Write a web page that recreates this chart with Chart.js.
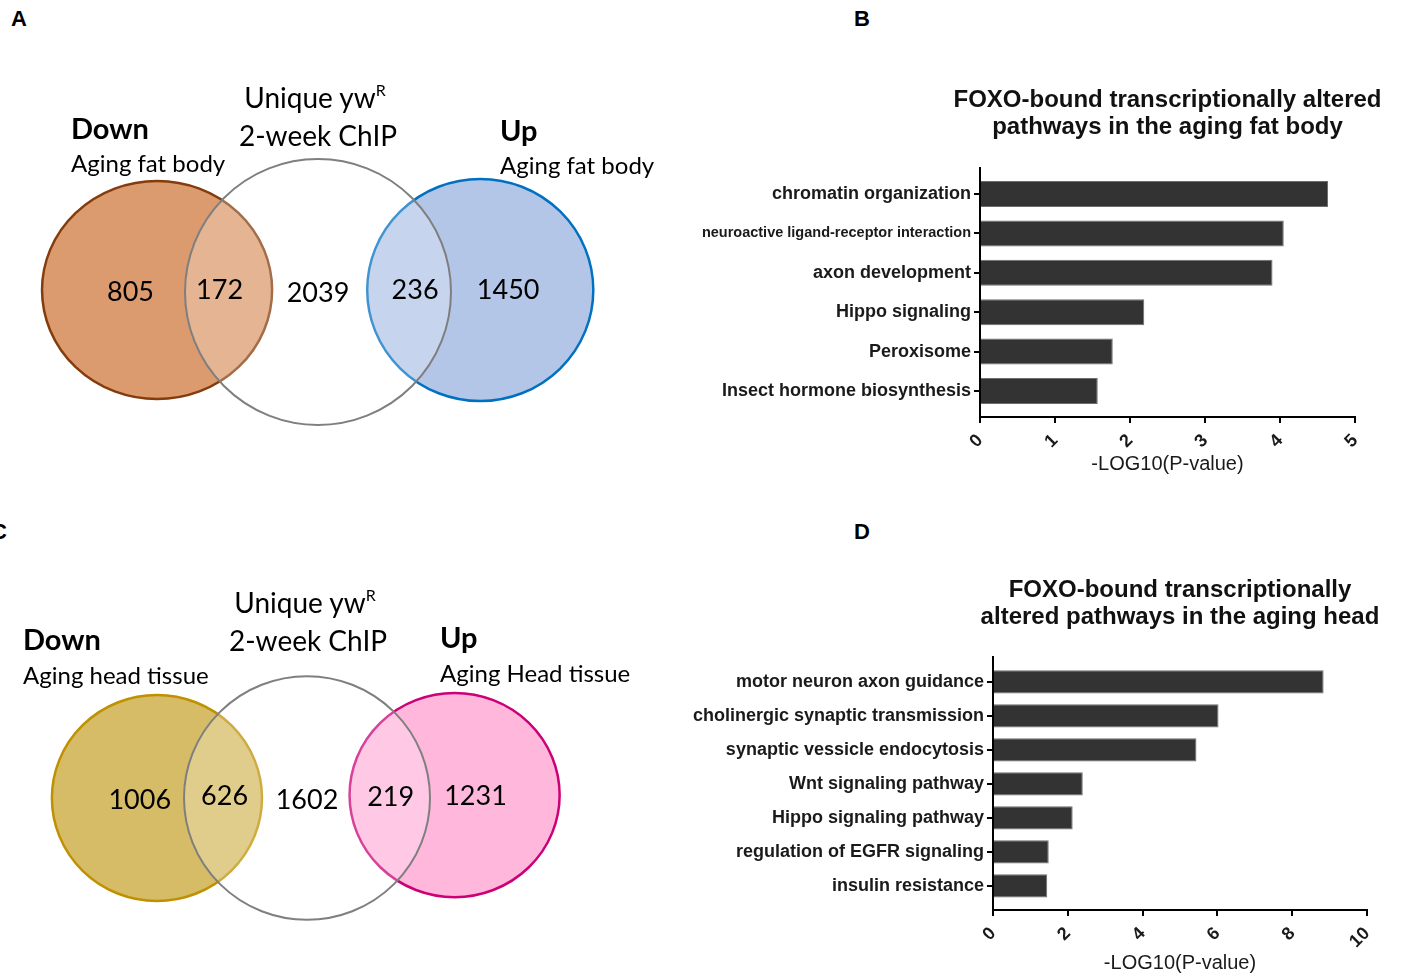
<!DOCTYPE html>
<html>
<head>
<meta charset="utf-8">
<script src="https://cdn.jsdelivr.net/npm/chart.js@4.4.1/dist/chart.umd.min.js"></script>
<style>
  body { margin: 0; background: #fff; width: 1402px; height: 979px; position: relative; overflow: hidden; font-family: Lato, sans-serif; color: #000; }
  canvas { position: absolute; }
  .lbl { position: absolute; white-space: nowrap; line-height: 1.2; transform: translateY(-50%); }
  .mid { transform: translate(-50%, -50%); }
  .head { font-size: 29px; font-weight: bold; }
  .sub { font-size: 24px; }
  .chip { font-size: 28px; }
  .chip sup { font-size: 16px; vertical-align: 12px; line-height: 0; }
  .letter { position: absolute; font: bold 22px "Liberation Sans", Arial, sans-serif; line-height: 1; }
</style>
</head>
<body>

<div class="letter" style="left:11px; top:8px">A</div>
<div class="letter" style="left:854px; top:8px">B</div>
<div class="letter" style="left:-9px; top:521px">C</div>
<div class="letter" style="left:854px; top:521px">D</div>

<canvas id="vennA" width="700" height="390" style="left:0; top:60px"></canvas>
<canvas id="barB" width="955" height="400" style="left:690px; top:80px"></canvas>
<canvas id="vennC" width="700" height="400" style="left:0; top:560px"></canvas>
<canvas id="barD" width="1000" height="409" style="left:680px; top:570px"></canvas>

<!-- venn headings -->
<div class="lbl head" style="left:71px; top:128px">Down</div>
<div class="lbl sub" style="left:71px; top:163px">Aging fat body</div>
<div class="lbl chip mid" style="left:315px; top:98px">Unique yw<sup>R</sup></div>
<div class="lbl chip mid" style="left:318px; top:136px">2-week ChIP</div>
<div class="lbl head" style="left:500px; top:130px">Up</div>
<div class="lbl sub" style="left:500px; top:165px">Aging fat body</div>

<div class="lbl head" style="left:23px; top:639px">Down</div>
<div class="lbl sub" style="left:23px; top:675px">Aging head tissue</div>
<div class="lbl chip mid" style="left:305px; top:603px">Unique yw<sup>R</sup></div>
<div class="lbl chip mid" style="left:308px; top:641px">2-week ChIP</div>
<div class="lbl head" style="left:440px; top:637px">Up</div>
<div class="lbl sub" style="left:440px; top:673px">Aging Head tissue</div>

<script>
// ---- data ----
// Venn A (fat body): region counts and where they sit, in units of the ChIP circle radius
const fatBodyCounts = [805, 172, 2039, 236, 1450];
const fatBodyCountX = [-1.41, -0.74, 0, 0.73, 1.43];
const fatBodyCountY = [0, 0.015, -0.01, 0.015, 0.015];
// circles: Down, Up, ChIP
const fatBodyCircleX = [-1.21, 1.22, 0];
const fatBodyCircleY = [0.015, 0.015, 0];
const fatBodyCircleRx = [0.865, 0.85, 1];
const fatBodyCircleRy = [0.82, 0.835, 1];

// Venn C (head tissue)
const headCounts = [1006, 626, 1602, 219, 1231];
const headCountX = [-1.36, -0.67, 0, 0.68, 1.37];
const headCountY = [-0.016, 0.016, -0.016, 0.008, 0.016];
const headCircleX = [-1.22, 1.2, 0];
const headCircleY = [0, 0.024, 0];
const headCircleRx = [0.854, 0.854, 1];
const headCircleRy = [0.837, 0.83, 0.99];

// Bar B
const fatBodyPathways = ['chromatin organization', 'neuroactive ligand-receptor interaction', 'axon development',
  'Hippo signaling', 'Peroxisome', 'Insect hormone biosynthesis'];
const fatBodyLogP = [4.64, 4.05, 3.9, 2.19, 1.77, 1.57];
const fatBodyTicks = [0, 1, 2, 3, 4, 5];

// Bar D
const headPathways = ['motor neuron axon guidance', 'cholinergic synaptic transmission', 'synaptic vessicle endocytosis',
  'Wnt signaling pathway', 'Hippo signaling pathway', 'regulation of EGFR signaling', 'insulin resistance'];
const headLogP = [8.84, 6.03, 5.44, 2.4, 2.13, 1.49, 1.45];
const headTicks = [0, 2, 4, 6, 8, 10];

const ARIAL = '"Liberation Sans", Arial, sans-serif';

// draws the set ellipses under the points, and the counts at the points
const vennPlugin = {
  id: 'venn',
  beforeDatasetsDraw(chart, args, opts) {
    const { ctx, scales: { x, y } } = chart;
    opts.circles.forEach(c => {
      const px = x.getPixelForValue(c.cx);
      const py = y.getPixelForValue(c.cy);
      const rx = x.getPixelForValue(c.cx + c.rx) - px;
      const ry = py - y.getPixelForValue(c.cy + c.ry);
      ctx.save();
      ctx.beginPath();
      ctx.ellipse(px, py, rx, ry, 0, 0, Math.PI * 2);
      ctx.fillStyle = c.fill;
      ctx.fill();
      ctx.lineWidth = c.width;
      ctx.strokeStyle = c.stroke;
      ctx.stroke();
      ctx.restore();
    });
  },
  afterDatasetsDraw(chart) {
    const { ctx } = chart;
    const ds = chart.data.datasets[0];
    const meta = chart.getDatasetMeta(0);
    ctx.save();
    ctx.font = '27px Lato, sans-serif';
    ctx.fillStyle = '#000';
    ctx.textAlign = 'center';
    ctx.textBaseline = 'middle';
    meta.data.forEach((pt, i) => ctx.fillText(String(ds.counts[i]), pt.x, pt.y));
    ctx.restore();
  }
};

function makeVenn(id, counts, cx, cy, circX, circY, circRx, circRy, colors, range) {
  const circles = circX.map((v, i) => ({
    cx: v, cy: circY[i], rx: circRx[i], ry: circRy[i],
    fill: colors[i].fill, stroke: colors[i].stroke, width: colors[i].width
  }));
  new Chart(document.getElementById(id), {
    type: 'scatter',
    data: {
      datasets: [{
        counts: counts,
        data: counts.map((c, i) => ({ x: cx[i], y: cy[i] })),
        pointRadius: 0
      }]
    },
    options: {
      responsive: false,
      animation: false,
      layout: { padding: 0 },
      scales: {
        x: { type: 'linear', display: false, min: range[0], max: range[1] },
        y: { type: 'linear', display: false, min: range[2], max: range[3] }
      },
      plugins: { legend: { display: false }, tooltip: { enabled: false }, venn: { circles } }
    },
    plugins: [vennPlugin]
  });
}

makeVenn('vennA', fatBodyCounts, fatBodyCountX, fatBodyCountY,
  fatBodyCircleX, fatBodyCircleY, fatBodyCircleRx, fatBodyCircleRy, [
    { fill: '#DC9B6E', stroke: '#843C0C', width: 2.5 },
    { fill: '#B4C6E7', stroke: '#0070C0', width: 2.5 },
    { fill: 'rgba(255,255,255,0.25)', stroke: '#7F7F7F', width: 2 }
  ], [-318 / 133, 382 / 133, -158 / 133, 232 / 133]);

makeVenn('vennC', headCounts, headCountX, headCountY,
  headCircleX, headCircleY, headCircleRx, headCircleRy, [
    { fill: '#D6BC66', stroke: '#BF9000', width: 2.5 },
    { fill: '#FFB7DC', stroke: '#CC0077', width: 2.5 },
    { fill: 'rgba(255,255,255,0.25)', stroke: '#7F7F7F', width: 2 }
  ], [-307 / 123, 393 / 123, -162 / 123, 238 / 123]);

function makeBar(id, title, cats, vals, ticks, cfg) {
  const n = cats.length;
  new Chart(document.getElementById(id), {
    type: 'bar',
    data: {
      datasets: [{
        data: vals.map((v, i) => ({ x: v, y: i })),
        backgroundColor: '#333333',
        borderColor: '#6e6e6e',
        borderWidth: 1,
        categoryPercentage: 1,
        barPercentage: cfg.barPct
      }]
    },
    options: {
      indexAxis: 'y',
      responsive: false,
      animation: false,
      layout: { padding: 0 },
      scales: {
        x: {
          type: 'linear', min: ticks[0], max: ticks[ticks.length - 1],
          afterBuildTicks: s => { s.ticks = ticks.map(v => ({ value: v })); },
          afterFit: s => { s.height = cfg.xHeight; },
          ticks: { minRotation: 45, maxRotation: 45, padding: 7, color: '#1a1a1a',
            font: { family: ARIAL, size: 18, weight: 'bold' } },
          grid: { drawOnChartArea: false, drawTicks: true, tickLength: 6, color: '#000', lineWidth: 2 },
          border: { display: true, color: '#000', width: 2 },
          title: { display: true, text: '-LOG10(P-value)', color: '#1a1a1a',
            font: { family: ARIAL, size: 20 }, padding: { top: 0, bottom: 4 } }
        },
        y: {
          type: 'linear', reverse: true, offset: false, min: cfg.yMin, max: n - 1 + cfg.yMax,
          afterBuildTicks: s => { s.ticks = cats.map((c, i) => ({ value: i })); },
          afterFit: s => { s.width = cfg.yWidth; },
          ticks: {
            callback: (v, i) => cats[i],
            color: '#1a1a1a',
            padding: 3,
            autoSkip: false,
            font: ctx => ({ family: ARIAL, weight: 'bold', size: (cfg.small || {})[ctx.index] || 18 })
          },
          grid: { offset: false, drawOnChartArea: false, drawTicks: true, tickLength: 6, color: '#000', lineWidth: 2 },
          border: { display: true, color: '#000', width: 2 }
        },
        // empty right-hand box as wide as the label column, so the title centres over the plot
        spacer: {
          type: 'linear', position: 'right', display: true,
          grid: { display: false }, border: { display: false }, ticks: { display: false },
          afterFit: s => { s.width = cfg.yWidth; }
        }
      },
      plugins: {
        legend: { display: false },
        tooltip: { enabled: false },
        title: {
          display: true, text: title, color: '#111',
          font: { family: ARIAL, size: 24, weight: 'bold', lineHeight: 1.125 },
          padding: { top: 6.5, bottom: cfg.titleBottom }
        }
      }
    }
  });
}

makeBar('barB', ['FOXO-bound transcriptionally altered', 'pathways in the aging fat body'],
  fatBodyPathways, fatBodyLogP, fatBodyTicks,
  { barPct: 0.66, xHeight: 63, yWidth: 290, yMin: -0.66, yMax: 0.66, titleBottom: 27.5, small: { 1: 14.5 } });

makeBar('barD', ['FOXO-bound transcriptionally', 'altered pathways in the aging head'],
  headPathways, headLogP, headTicks,
  { barPct: 0.68, xHeight: 69, yWidth: 313, yMin: -0.73, yMax: 0.71, titleBottom: 26.5 });
</script>
</body>
</html>
